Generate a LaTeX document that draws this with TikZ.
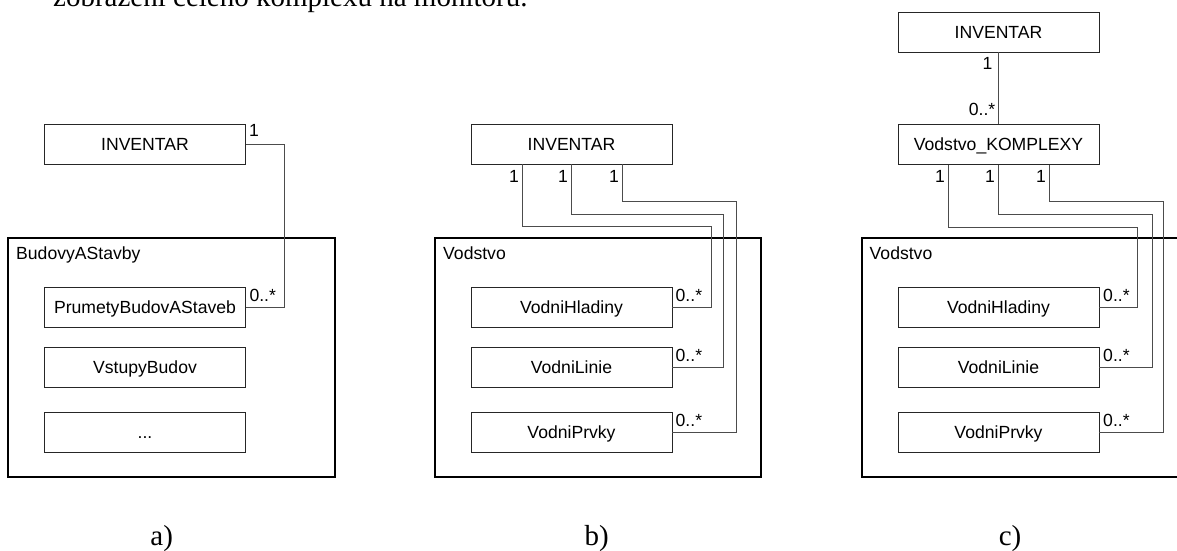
\documentclass[tikz,border=0pt]{standalone}
\usepackage{fontspec}
\setmainfont{Liberation Serif}
\setsansfont{Liberation Sans}
\begin{document}
\begin{tikzpicture}[x=1pt,y=-1pt,
  cls/.style={draw=black!85, line width=0.9pt, minimum width=201pt, minimum height=40pt,
    inner sep=0pt, font=\sffamily\fontsize{17.6}{20}\selectfont, text height=13pt, text depth=0pt},
  pkg/.style={draw=black, line width=2pt, inner sep=0pt},
  conn/.style={draw=black!70, line width=1pt},
  mult/.style={font=\sffamily\fontsize{17.6}{20}\selectfont, inner sep=0pt},
  caption/.style={font=\rmfamily\fontsize{29}{32}\selectfont, inner sep=0pt}]
\useasboundingbox (0,0) rectangle (1177,551);
\clip (0,0) rectangle (1177,551);

% running text line above the figure
\node[caption, anchor=base west] (lead) at (53,7) {zobrazení celého komplexu na monitoru.};

% ---------------- a) ----------------
\node[pkg, minimum width=327pt, minimum height=239pt] (pkgA) at (171.5,357.5) {};
\node[mult, anchor=base west] (pkgAname) at (16,259) {BudovyAStavby};
\node[cls] (invA)  at (145,144) {INVENTAR};
\node[cls] (prumA) at (145,307) {PrumetyBudovAStaveb};
\node[cls] (vstA)  at (145,367) {VstupyBudov};
\node[cls] (dotsA) at (145,432) {...};
\draw[conn] (invA.east) -- (284.3,144) |- (prumA.east);
\node[mult, anchor=base west] (mA1) at (248.8,136.7) {1};
\node[mult, anchor=base west] (mA2) at (249.3,301) {0..*};
\node[caption, anchor=base] (capA) at (161.7,545) {a)};

% ---------------- b) ----------------
\node[pkg, minimum width=326pt, minimum height=239.5pt] (pkgB) at (598,357.25) {};
\node[mult, anchor=base west] (pkgBname) at (443,259) {Vodstvo};
\node[cls] (invB) at (571.5,144) {INVENTAR};
\node[cls] (hlB)  at (571.5,307) {VodniHladiny};
\node[cls] (liB)  at (571.5,367) {VodniLinie};
\node[cls] (prB)  at (571.5,432) {VodniPrvky};
\draw[conn] ([xshift=52pt]invB.south west)  |- (711.7,226.7) |- (hlB.east);
\draw[conn] ([xshift=101pt]invB.south west) |- (723.3,214.3) |- (liB.east);
\draw[conn] ([xshift=152pt]invB.south west) |- (736,201.5)   |- (prB.east);
\node[mult, anchor=base east] (mB1) at (519,182.3) {1};
\node[mult, anchor=base east] (mB2) at (568,182.3) {1};
\node[mult, anchor=base east] (mB3) at (619,182.3) {1};
\node[mult, anchor=base west] (mB4) at (675.5,301) {0..*};
\node[mult, anchor=base west] (mB5) at (675.5,361) {0..*};
\node[mult, anchor=base west] (mB6) at (675.5,426) {0..*};
\node[caption, anchor=base] (capB) at (596.7,545) {b)};

% ---------------- c) ----------------
\node[pkg, minimum width=338.3pt, minimum height=239.5pt] (pkgC) at (1030.85,357.25) {};
\node[mult, anchor=base west] (pkgCname) at (869.5,259) {Vodstvo};
\node[cls] (invC)  at (998.5,32) {INVENTAR};
\node[cls] (kompC) at (998.5,144.3) {Vodstvo\_KOMPLEXY};
\node[cls] (hlC)   at (998.5,307) {VodniHladiny};
\node[cls] (liC)   at (998.5,367) {VodniLinie};
\node[cls] (prC)   at (998.5,432) {VodniPrvky};
\draw[conn] (invC.south) -- (kompC.north);
\node[mult, anchor=base east] (mC0) at (992.5,70) {1};
\node[mult, anchor=base east] (mC00) at (995.5,115) {0..*};
\draw[conn] ([xshift=51.3pt]kompC.south west) |- (1137.7,227.7) |- (hlC.east);
\draw[conn] ([xshift=101pt]kompC.south west)  |- (1152.3,214.3) |- (liC.east);
\draw[conn] ([xshift=152pt]kompC.south west)  |- (1163,201.7)   |- (prC.east);
\node[mult, anchor=base east] (mC1) at (945,182) {1};
\node[mult, anchor=base east] (mC2) at (995,182) {1};
\node[mult, anchor=base east] (mC3) at (1046,182) {1};
\node[mult, anchor=base west] (mC4) at (1103,301) {0..*};
\node[mult, anchor=base west] (mC5) at (1103,361) {0..*};
\node[mult, anchor=base west] (mC6) at (1103,426) {0..*};
\node[caption, anchor=base] (capC) at (1010,545) {c)};
\end{tikzpicture}
\end{document}
